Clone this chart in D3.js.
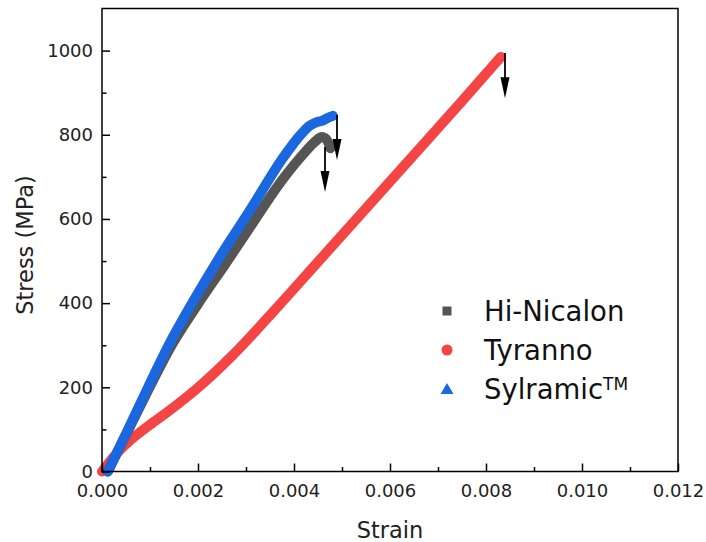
<!DOCTYPE html>
<html>
<head>
<meta charset="utf-8">
<script src="https://cdn.jsdelivr.net/npm/d3@7"></script>
<style>
  html, body { margin: 0; padding: 0; background: #fff; }
  svg { display: block; font-family: "DejaVu Sans", Verdana, sans-serif; }
</style>
</head>
<body>
<svg id="chart" width="706" height="542"></svg>
<script>
// ---- data ----
const seriesNames = ["Hi-Nicalon", "Tyranno", "Sylramic"];

const tyrannoStrain = [0, 0.00030, 0.00065, 0.00100, 0.00135, 0.00204, 0.00273, 0.00365, 0.00450, 0.00550, 0.00648, 0.00750, 0.00831];
const tyrannoStress = [0, 42, 80, 111, 140, 203, 277, 390, 498, 625, 750, 880, 985];

const hiNicalonStrain = [0.00012, 0.00054, 0.00096, 0.00140, 0.00200, 0.00260, 0.00308, 0.00377, 0.00420, 0.00445, 0.00458, 0.00467, 0.00476];
const hiNicalonStress = [0, 97, 193, 290, 398, 498, 580, 695, 755, 785, 795, 790, 768];

const sylramicStrain = [0.00012, 0.00054, 0.00096, 0.00138, 0.00194, 0.00250, 0.00308, 0.00377, 0.00410, 0.00433, 0.00445, 0.00458, 0.00470, 0.00481];
const sylramicStress = [0, 99, 200, 298, 412, 518, 620, 745, 795, 822, 829, 833, 840, 845];

// failure arrows: x position (strain), top and bottom (stress)
const arrowStrain = [0.004646, 0.004896, 0.008396];
const arrowTop = [771, 847, 994];
const arrowBottom = [664, 740, 887];

const xTicks = [0, 0.002, 0.004, 0.006, 0.008, 0.010, 0.012];
const xMinorTicks = [0.001, 0.003, 0.005, 0.007, 0.009, 0.011];
const yTicks = [0, 200, 400, 600, 800, 1000];
const yMinorTicks = [100, 300, 500, 700, 900];

const colors = { hi: "#555555", ty: "#f44444", sy: "#1b67df" };

// ---- layout ----
const svg = d3.select("#chart");
const plotL = 102, plotR = 678, plotT = 8.5, plotB = 471.5;
const x = d3.scaleLinear().domain([0, 0.012]).range([plotL, plotR]);
const y = d3.scaleLinear().domain([0, 1100]).range([plotB, plotT]);

// curves
const line = d3.line().x(d => x(d[0])).y(d => y(d[1])).curve(d3.curveMonotoneX);
function pairs(a, b) { return a.map((v, i) => [v, b[i]]); }

const curves = [
  { data: pairs(tyrannoStrain, tyrannoStress), color: colors.ty },
  { data: pairs(hiNicalonStrain, hiNicalonStress), color: colors.hi },
  { data: pairs(sylramicStrain, sylramicStress), color: colors.sy }
];
svg.append("g").selectAll("path").data(curves).join("path")
  .attr("d", d => line(d.data))
  .attr("fill", "none")
  .attr("stroke", d => d.color)
  .attr("stroke-width", 10)
  .attr("stroke-linecap", "round")
  .attr("stroke-linejoin", "round");

// arrows
const ag = svg.append("g");
arrowStrain.forEach((s, i) => {
  const ax = x(s), y0 = y(arrowTop[i]), y1 = y(arrowBottom[i]);
  ag.append("line").attr("x1", ax).attr("x2", ax).attr("y1", y0).attr("y2", y1 - 18)
    .attr("stroke", "#000").attr("stroke-width", 1.8);
  ag.append("path")
    .attr("d", `M${ax - 4.5},${y1 - 21} L${ax + 4.5},${y1 - 21} L${ax},${y1} Z`)
    .attr("fill", "#000");
});

// axes
const axisFont = "18px";
svg.append("g").attr("transform", `translate(0,${plotB})`)
  .call(d3.axisBottom(x).tickValues(xTicks).tickSize(-8).tickPadding(13).tickFormat(d3.format(".3f")));
svg.append("g").attr("transform", `translate(0,${plotB})`)
  .call(d3.axisBottom(x).tickValues(xMinorTicks).tickSize(-4.5).tickFormat(""));
svg.append("g").attr("transform", `translate(${plotL},0)`)
  .call(d3.axisLeft(y).tickValues(yTicks).tickSize(-8).tickPadding(9).tickFormat(d3.format("d")));
svg.append("g").attr("transform", `translate(${plotL},0)`)
  .call(d3.axisLeft(y).tickValues(yMinorTicks).tickSize(-4.5).tickFormat(""));

svg.selectAll(".domain").remove();
svg.selectAll(".tick line").attr("stroke", "#000").attr("stroke-width", 1.5);
svg.selectAll(".tick text").attr("fill", "#222").style("font-size", axisFont)
  .style("font-family", "'DejaVu Sans', Verdana, sans-serif");

// frame
svg.append("rect").attr("x", plotL).attr("y", plotT)
  .attr("width", plotR - plotL).attr("height", plotB - plotT)
  .attr("fill", "none").attr("stroke", "#000").attr("stroke-width", 1.5);

// axis titles
svg.append("text").attr("x", (plotL + plotR) / 2).attr("y", 538)
  .attr("text-anchor", "middle").style("font-size", "22.5px").attr("fill", "#222").text("Strain");
svg.append("text").attr("transform", "translate(33,245) rotate(-90)")
  .attr("text-anchor", "middle").style("font-size", "22.5px").attr("fill", "#222").text("Stress (MPa)");

// legend
const lg = svg.append("g");
const legX = 447, textX = 484, rows = [311, 350, 389];
lg.append("rect").attr("x", legX - 4.5).attr("y", rows[0] - 4.5).attr("width", 9).attr("height", 9).attr("fill", colors.hi);
lg.append("circle").attr("cx", legX).attr("cy", rows[1]).attr("r", 5.5).attr("fill", colors.ty);
lg.append("path").attr("d", `M${legX - 6.5},${rows[2] + 5} L${legX + 6.5},${rows[2] + 5} L${legX},${rows[2] - 6} Z`).attr("fill", colors.sy);
lg.append("text").attr("x", textX).attr("y", rows[0] + 10).style("font-size", "27.5px").attr("fill", "#111").text(seriesNames[0]);
lg.append("text").attr("x", textX).attr("y", rows[1] + 10).style("font-size", "27.5px").attr("fill", "#111").text(seriesNames[1]);
const t3 = lg.append("text").attr("x", textX).attr("y", rows[2] + 10).style("font-size", "27.5px").attr("fill", "#111");
t3.append("tspan").text(seriesNames[2]);
t3.append("tspan").attr("dy", -9).style("font-size", "17px").text("TM");
</script>
</body>
</html>
